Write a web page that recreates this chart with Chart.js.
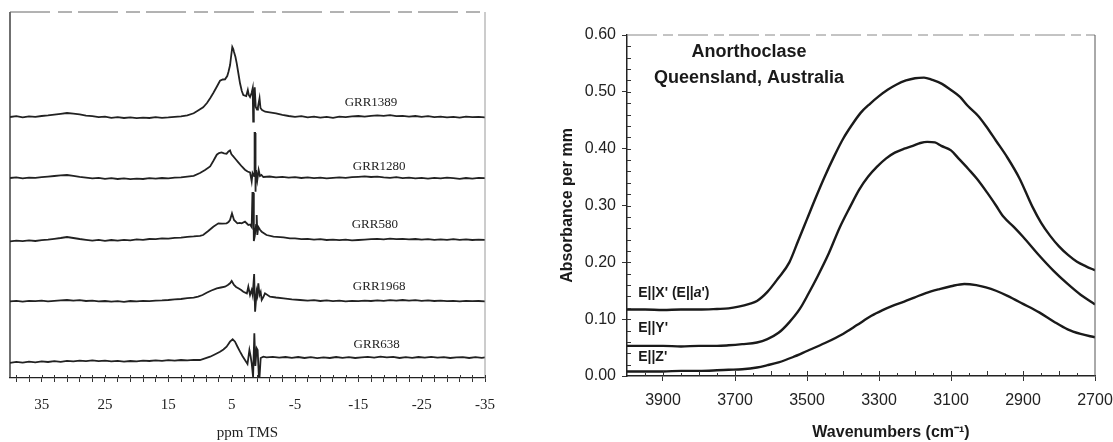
<!DOCTYPE html>
<html>
<head>
<meta charset="utf-8">
<script src="https://cdn.jsdelivr.net/npm/chart.js@4.4.0/dist/chart.umd.min.js"></script>
<style>
  body { margin: 0; background: #fff; }
  #nmrBox { position: absolute; left: 0; top: 0; width: 500px; height: 442px; }
  #irBox { position: absolute; left: 540px; top: 0; width: 573px; height: 442px; }
</style>
</head>
<body>
<div id="nmrBox"><canvas id="nmr-chart" width="500" height="442"></canvas></div>
<div id="irBox"><canvas id="ir-chart" width="573" height="442"></canvas></div>
<script>
// ---- left panel: 1H NMR spectra, [ppm, intensity above own baseline] ----
var sampleNames = ['GRR1389', 'GRR1280', 'GRR580', 'GRR1968', 'GRR638'];
var traceOffsets = [261, 200, 138, 77, 17];

var grr1389 = [
	[40,0],[39,0.8],[38,-0.4],[37,0.6],[36,0.2],[35,1],[34,1.6],[33,2.4],[32,3.2],[31,4],[30,3.4],[29,2.6],[28,1.4],[27,0.8],
	[26,-0.2],[25,0.4],[24,-0.8],[23,-0.2],[22,-1],[21,-0.4],[20,-1.2],[19,-0.6],[18,-1],[17,-0.2],[16,-0.8],[15,-0.4],[14,0.2],
	[13,0.6],[12,1.6],[11,3.7],[10.3,6.5],[9.5,9.7],[8.9,14],[8.4,18.7],[7.9,24],[7.35,30.3],[6.84,36.3],[6.4,37.5],[6.05,37.7],
	[5.7,41],[5.5,45.3],[5.25,52],[5.1,60],[4.9,70],[4.75,68],[4.63,65],[4.4,60],[4.2,53.7],[3.95,44],[3.68,33.7],[3.4,26],
	[3.16,22],[2.7,21],[2.45,27],[2.3,22],[2.1,20],[1.85,24],[1.68,28.7],[1.6,-4.7],[1.5,20],[1.36,29.7],[1.2,10],[1.0,7.5],
	[0.85,10],[0.6,18.7],[0.45,9],[0.2,7],[-0.3,5.3],[-1,4.6],[-2,3.7],[-3,2.2],[-4,1],
	[-5,0.2],[-6,0.8],[-7,-0.4],[-8,0.4],[-9,-0.6],[-10,0.2],[-11,-0.8],[-12,0.4],[-13,-0.2],[-14,0.6],[-15,1],[-16,0.4],
	[-17,1.2],[-18,1.6],[-19,1.2],[-20,1.8],[-21,0.8],[-22,1.2],[-23,0.4],[-24,1],[-25,0.2],[-26,0.8],[-27,-0.2],[-28,0.4],
	[-29,-0.4],[-30,0.2],[-31,-0.6],[-32,0.4],[-33,-0.2],[-34,0.2],[-35,-0.4]
];
var grr1280 = [
	[40,0],[39,0.6],[38,-0.4],[37,0.4],[36,0.2],[35,0.8],[34,1.4],[33,2],[32,2.6],[31,3],[30,2.2],[29,1.2],[28,0.4],[27,-0.4],
	[26,0.2],[25,-0.8],[24,-0.2],[23,-1],[22,-0.4],[21,-1.2],[20,-0.6],[19,-1],[18,-0.2],[17,-0.6],[16,0],[15,-0.4],[14,0.4],
	[13,0.6],[12,1.4],[11,2.2],[10,5],[9.2,8],[8.4,11.6],[7.9,17],[7.35,23.3],[7,25],[6.6,25.6],[6.2,24.6],[5.8,24.3],[5.5,26.5],
	[5.26,27.6],[5.05,24],[4.84,22.3],[4.4,19],[3.95,15.6],[3.4,11.5],[2.9,8.3],[2.5,6.5],[2.1,5.6],[1.84,-3.4],[1.7,5],[1.45,2],
	[1.38,45],[1.3,45],[1.26,-13.7],[1.2,-13],[1.15,8],[0.95,-2],[0.74,8],[0.53,2],[0.3,3],[0,1],[-1,1.5],[-2,0.6],[-3,1.2],[-4,0.4],
	[-5,0.8],[-6,0],[-7,0.6],[-8,-0.2],[-9,0.4],[-10,-0.4],[-11,0.2],[-12,0.6],[-13,0.2],[-14,0.8],[-15,1.2],[-16,1.6],[-17,1],
	[-18,1.4],[-19,0.6],[-20,0.2],[-21,0.8],[-22,-0.2],[-23,0.4],[-24,-0.4],[-25,0.2],[-26,-0.6],[-27,0.2],[-28,-0.4],[-29,0.4],
	[-30,-0.2],[-31,-0.8],[-32,0],[-33,-0.6],[-34,0.2],[-35,-0.2]
];
var grr580 = [
	[40,-1.4],[39,-0.6],[38,-1.2],[37,-0.4],[36,-1],[35,-0.2],[34,0.4],[33,1.2],[32,2],[31,3],[30,2],[29,1],[28,0.2],[27,-0.6],
	[26,0.2],[25,-0.8],[24,0],[23,-0.6],[22,0.2],[21,-0.4],[20,0.6],[19,0.2],[18,1],[17,0.8],[16,1.6],[15,1.4],[14,2.2],[13,2.4],
	[12,3.2],[11,3.6],[10,4.2],[9.5,5],[8.7,9],[7.9,13.3],[7.1,16.7],[6.5,16.4],[5.8,16.7],[5.5,18],[5.26,20],[4.95,26.7],[4.63,20],
	[4.1,16.7],[3.7,17.2],[3.42,16.7],[2.9,18.3],[2.6,16.5],[2.37,15],[2.1,15.5],[1.84,13],[1.72,47],[1.58,47],[1.5,-1],[1.35,4],
	[1.15,15],[1.05,25],[0.95,5],[0.79,13],[0.5,10],[0.26,8.3],[-0.5,5],[-1.6,3.3],[-3.2,2.7],[-4.2,1.6],
	[-5,1.6],[-6,0.8],[-7,1.2],[-8,0.4],[-9,0.8],[-10,0],[-11,0.4],[-12,-0.2],[-13,0.4],[-14,-0.4],[-15,0],[-16,0.4],[-17,0.8],
	[-18,1.2],[-19,0.6],[-20,1.4],[-21,0.8],[-22,1.2],[-23,0.6],[-24,1],[-25,0.4],[-26,0.8],[-27,0.2],[-28,0.6],[-29,0.2],
	[-30,0.8],[-31,0.2],[-32,0.6],[-33,0],[-34,0.4],[-35,0.2]
];
var grr1968 = [
	[40,-0.4],[39,0.2],[38,-0.6],[37,0.2],[36,-0.2],[35,0.4],[34,-0.4],[33,0.2],[32,0.6],[31,1],[30,0.4],[29,0.8],[28,0],[27,0.4],
	[26,-0.4],[25,0],[24,-0.6],[23,-0.2],[22,-0.8],[21,0],[20,-0.4],[19,0.2],[18,-0.2],[17,0.4],[16,0.6],[15,1],[14,1.6],[13,2],
	[12,2.8],[11,3.4],[10.3,4.4],[9.6,6],[8.95,8.3],[8.2,10.5],[7.35,12.7],[6.7,13.5],[6.05,14.3],[5.6,16],[5.26,17.7],[5,20],
	[4.63,16],[4.3,14],[3.95,12.7],[3.5,11],[3.16,9.3],[2.6,7.6],[2.37,14.3],[2.1,6],[1.84,11],[1.68,6],[1.45,27],[1.37,27],
	[1.3,-10.7],[1.22,-10.7],[1.05,9.3],[0.95,6],[0.79,17.7],[0.6,6],[0.42,9],[0.26,1],[0,4],[-0.26,7.7],[-1.05,4.3],[-2,3.5],
	[-3.2,2.7],[-4.5,1.6],[-5.8,1],[-7,0.4],[-8,0.8],[-9,0],[-10,0.6],[-11,-0.2],[-12,0.4],[-13,-0.4],[-14,0.2],[-15,-0.2],
	[-16,0.4],[-17,0],[-18,0.6],[-19,0.2],[-20,0.8],[-21,0.4],[-22,1],[-23,0.4],[-24,0.8],[-25,0.2],[-26,0.6],[-27,0],[-28,0.4],
	[-29,-0.2],[-30,0.2],[-31,-0.4],[-32,0.2],[-33,-0.2],[-34,0],[-35,-0.4]
];
var grr638 = [
	[40,-1.8],[39,-0.8],[38,-1.6],[37,-0.6],[36,-1.4],[35,-0.4],[34,-1],[33,-0.2],[32,-0.8],[31,0.2],[30,-0.4],[29,0.4],[28,-0.2],
	[27,0.6],[26,-0.2],[25,0.4],[24,-0.4],[23,0.2],[22,-0.6],[21,0],[20,-0.4],[19,0.4],[18,0],[17,0.6],[16,0.2],[15,0.8],[14,0.4],
	[13,1],[12,0.6],[11,1.2],[10,1],[9.2,2.6],[8.4,4.3],[7.6,6.8],[6.84,9.3],[6.3,11.5],[5.8,14.3],[5.26,19.3],[4.84,21.7],
	[4.47,19.3],[4.1,14.5],[3.68,9.3],[3.3,5],[2.9,1],[2.5,-3],[2.2,11],[2,4.3],[1.84,-2],[1.62,-16],[1.55,-16],[1.42,27.7],
	[1.34,27.7],[1.26,-5],[1.05,12.7],[0.9,11],[0.7,-16],[0.6,-16],[0.42,3],[0,4.3],[-0.5,3.6],[-1.5,4.2],[-2.5,3.4],[-3.5,4],
	[-4.5,3.2],[-5.5,4],[-6.5,3],[-7.5,3.8],[-8.5,2.8],[-9.5,3.6],[-10.5,3],[-11.5,4],[-12.5,3.2],[-13.5,3.8],[-14.5,3],
	[-15.5,3.6],[-16.5,4.2],[-17.5,3.4],[-18.5,4.4],[-19.5,3.6],[-20.5,4.2],[-21.5,3],[-22.5,3.8],[-23.5,3.2],[-24.5,4],
	[-25.5,3.4],[-26.5,4.2],[-27.5,3.4],[-28.5,3.8],[-29.5,3],[-30.5,3.6],[-31.5,3.8],[-32.5,3],[-33.5,3.8],[-34.5,3.2],[-35,3.6]
];
var nmrTraces = [grr1389, grr1280, grr580, grr1968, grr638];
var ppmTickLabels = [35, 25, 15, 5, -5, -15, -25, -35];

// ---- right panel: IR absorbance per mm ----
var irSeriesNames = ["E||X' (E||a')", "E||Y'", "E||Z'"];
var wnX = [4000,3950,3900,3850,3800,3750,3718,3690,3660,3639,3610,3580,3549,3525,3500,3475,3450,3425,3400,3375,3351,3325,3301,
	3275,3251,3225,3200,3175,3152,3125,3102,3075,3053,3025,3003,2975,2943,2910,2874,2850,2825,2800,2775,2750,2725,2700];
var absX = [0.117,0.117,0.116,0.117,0.117,0.118,0.119,0.122,0.127,0.132,0.148,0.172,0.200,0.237,0.276,0.315,0.352,0.386,0.417,
	0.442,0.463,0.479,0.492,0.504,0.513,0.520,0.524,0.525,0.521,0.514,0.504,0.491,0.475,0.458,0.440,0.414,0.384,0.348,0.298,0.270,
	0.247,0.228,0.213,0.201,0.193,0.186];
var wnY = [4000,3950,3900,3850,3800,3750,3718,3680,3639,3610,3579,3550,3520,3495,3470,3440,3410,3380,3355,3330,3306,3280,3256,
	3230,3206,3185,3166,3145,3127,3100,3078,3050,3028,3000,2975,2954,2925,2900,2855,2815,2776,2740,2700];
var absY = [0.053,0.053,0.053,0.052,0.053,0.053,0.054,0.056,0.059,0.065,0.076,0.094,0.118,0.146,0.176,0.215,0.260,0.298,0.328,
	0.351,0.368,0.383,0.393,0.400,0.405,0.410,0.412,0.411,0.405,0.397,0.382,0.363,0.347,0.323,0.300,0.280,0.262,0.245,0.212,0.185,
	0.162,0.143,0.126];
var wnZ = [4000,3950,3900,3850,3800,3750,3718,3680,3639,3610,3579,3540,3500,3450,3400,3360,3321,3290,3261,3230,3202,3170,3132,
	3100,3063,3030,3003,2975,2943,2900,2855,2815,2776,2740,2700];
var absZ = [0.008,0.008,0.008,0.009,0.009,0.010,0.011,0.012,0.015,0.019,0.024,0.033,0.044,0.058,0.074,0.090,0.106,0.116,0.124,
	0.131,0.138,0.146,0.153,0.158,0.162,0.160,0.156,0.150,0.141,0.127,0.112,0.096,0.082,0.074,0.068];
var wnTickLabels = [3900, 3700, 3500, 3300, 3100, 2900, 2700];
var absTickLabels = [0, 0.1, 0.2, 0.3, 0.4, 0.5, 0.6];

var serif = '"Liberation Serif", "Times New Roman", serif';
var sans = '"Liberation Sans", Arial, sans-serif';

// sample names sit a little above each trace, right of the peak
var nmrLabelAt = [[-17, 14], [-18.3, 11], [-17.6, 15], [-18.3, 14], [-17.9, 16]];

var nmrDecor = {
	id: 'nmrDecor',
	afterDatasetsDraw: function(chart) {
		var ctx = chart.ctx, a = chart.chartArea, x = chart.scales.x, y = chart.scales.y;
		ctx.save();
		ctx.strokeStyle = '#222';
		ctx.lineWidth = 1.3;
		ctx.beginPath(); ctx.moveTo(a.left, a.top); ctx.lineTo(a.left, a.bottom); ctx.stroke();
		ctx.strokeStyle = '#666';
		ctx.lineWidth = 1;
		ctx.setLineDash([40, 8, 14, 6]);
		ctx.beginPath(); ctx.moveTo(a.left, a.top); ctx.lineTo(a.right, a.top); ctx.stroke();
		ctx.setLineDash([]);
		ctx.strokeStyle = '#999';
		ctx.beginPath(); ctx.moveTo(a.right, a.top); ctx.lineTo(a.right, a.bottom); ctx.stroke();
		// ticks cross the axis line
		ctx.strokeStyle = '#333';
		x.ticks.forEach(function(t) {
			var px = Math.round(x.getPixelForValue(t.value)) + 0.5;
			ctx.beginPath(); ctx.moveTo(px, a.bottom); ctx.lineTo(px, a.bottom - 3); ctx.stroke();
		});
		ctx.font = '13px ' + serif;
		ctx.fillStyle = '#222';
		ctx.textAlign = 'center';
		ctx.textBaseline = 'middle';
		sampleNames.forEach(function(n, i) {
			ctx.fillText(n, x.getPixelForValue(nmrLabelAt[i][0]), y.getPixelForValue(traceOffsets[i] + nmrLabelAt[i][1]));
		});
		ctx.restore();
	}
};

new Chart(document.getElementById('nmr-chart'), {
	type: 'line',
	data: {
		datasets: nmrTraces.map(function(tr, i) {
			return {
				label: sampleNames[i],
				data: tr.map(function(p) { return {x: p[0], y: traceOffsets[i] + p[1]}; }),
				borderColor: '#222',
				borderWidth: 1.8,
				pointRadius: 0,
				tension: 0,
				fill: false
			};
		})
	},
	options: {
		responsive: false,
		animation: false,
		devicePixelRatio: 1,
		layout: { padding: { left: 10, right: 15, top: 12, bottom: 0 } },
		plugins: { legend: { display: false }, tooltip: { enabled: false } },
		scales: {
			x: {
				type: 'linear',
				reverse: true,
				min: -35,
				max: 40,
				afterBuildTicks: function(s) {
					var t = [];
					for (var v = 39; v >= -35; v -= 2) t.push({value: v});
					s.ticks = t;
				},
				afterFit: function(s) { s.height = 64; s.paddingLeft = 0; s.paddingRight = 0; },
				grid: { drawOnChartArea: false, tickLength: 4, color: '#333', lineWidth: 1 },
				border: { color: '#222', width: 1.3 },
				ticks: {
					autoSkip: false,
					maxRotation: 0,
					padding: 14,
					color: '#222',
					font: { family: serif, size: 15 },
					callback: function(v) { return ppmTickLabels.indexOf(v) >= 0 ? String(v) : ''; }
				},
				title: { display: true, text: 'ppm TMS', color: '#222', font: { family: serif, size: 15 }, padding: { top: 0, bottom: 0 } }
			},
			y: { display: false, min: 0, max: 366 }
		}
	},
	plugins: [nmrDecor]
});

// ---- right chart ----
var irDecor = {
	id: 'irDecor',
	afterDraw: function(chart) {
		var ctx = chart.ctx, a = chart.chartArea, x = chart.scales.x, y = chart.scales.y;
		ctx.save();
		// frame
		ctx.strokeStyle = '#888';
		ctx.lineWidth = 1;
		ctx.setLineDash([30, 6, 10, 5]);
		ctx.beginPath(); ctx.moveTo(a.left, a.top); ctx.lineTo(a.right, a.top); ctx.stroke();
		ctx.setLineDash([]);
		ctx.strokeStyle = '#555';
		ctx.beginPath(); ctx.moveTo(a.right, a.top); ctx.lineTo(a.right, a.bottom); ctx.stroke();
		// minor ticks, inside
		ctx.strokeStyle = '#333';
		for (var v = 0.02; v < 0.6; v += 0.02) {
			var py = Math.round(y.getPixelForValue(v)) + 0.5;
			ctx.beginPath(); ctx.moveTo(a.left, py); ctx.lineTo(a.left + 4, py); ctx.stroke();
		}
		for (var w = 3950; w > 2700; w -= 50) {
			var px = Math.round(x.getPixelForValue(w)) + 0.5;
			ctx.beginPath(); ctx.moveTo(px, a.bottom); ctx.lineTo(px, a.bottom - (w % 100 === 0 ? 5 : 3)); ctx.stroke();
		}
		// heading
		ctx.fillStyle = '#1a1a1a';
		ctx.textAlign = 'center';
		ctx.textBaseline = 'middle';
		ctx.font = 'bold 18px ' + sans;
		ctx.fillText('Anorthoclase', x.getPixelForValue(3661), y.getPixelForValue(0.570));
		ctx.fillText('Queensland, Australia', x.getPixelForValue(3661), y.getPixelForValue(0.524));
		// series labels
		ctx.font = 'bold 14px ' + sans;
		ctx.textAlign = 'left';
		var lx = x.getPixelForValue(3969);
		var t1 = "E||X' (E||", t2 = 'a', t3 = "')";
		var ly = y.getPixelForValue(0.146);
		ctx.fillText(t1, lx, ly);
		var w1 = ctx.measureText(t1).width;
		ctx.font = 'bold italic 14px ' + sans;
		ctx.fillText(t2, lx + w1, ly);
		var w2 = ctx.measureText(t2).width;
		ctx.font = 'bold 14px ' + sans;
		ctx.fillText(t3, lx + w1 + w2, ly);
		ctx.fillText(irSeriesNames[1], lx, y.getPixelForValue(0.085));
		ctx.fillText(irSeriesNames[2], lx, y.getPixelForValue(0.033));
		// x axis title
		ctx.textAlign = 'center';
		ctx.font = 'bold 16px ' + sans;
		ctx.fillText('Wavenumbers (cm\u207B\u00B9)', (a.left + a.right) / 2 + 30, 433);
		ctx.restore();
	}
};

function irLine(wn, ab, name) {
	return {
		label: name,
		data: wn.map(function(w, i) { return {x: w, y: ab[i]}; }),
		borderColor: '#1a1a1a',
		borderWidth: 2.4,
		pointRadius: 0,
		cubicInterpolationMode: 'monotone',
		fill: false
	};
}

new Chart(document.getElementById('ir-chart'), {
	type: 'line',
	data: {
		datasets: [irLine(wnX, absX, irSeriesNames[0]), irLine(wnY, absY, irSeriesNames[1]), irLine(wnZ, absZ, irSeriesNames[2])]
	},
	options: {
		responsive: false,
		animation: false,
		devicePixelRatio: 1,
		layout: { padding: { left: 0, right: 18, top: 35, bottom: 0 } },
		plugins: { legend: { display: false }, tooltip: { enabled: false } },
		scales: {
			x: {
				type: 'linear',
				reverse: true,
				min: 2700,
				max: 4000,
				afterBuildTicks: function(s) { s.ticks = wnTickLabels.map(function(v) { return {value: v}; }); },
				afterFit: function(s) { s.height = 66; s.paddingLeft = 0; s.paddingRight = 0; },
				grid: { drawOnChartArea: false, tickLength: 5, color: '#333' },
				border: { color: '#222', width: 1.5 },
				ticks: {
					autoSkip: false,
					maxRotation: 0,
					padding: 10,
					color: '#222',
					font: { family: sans, size: 16 },
					callback: function(v) { return String(v); }
				}
			},
			y: {
				min: 0,
				max: 0.6,
				afterBuildTicks: function(s) { s.ticks = absTickLabels.map(function(v) { return {value: v}; }); },
				afterFit: function(s) { s.width = 87; s.paddingTop = 0; s.paddingBottom = 0; },
				grid: { drawOnChartArea: false, tickLength: 5, color: '#333' },
				border: { color: '#222', width: 1.5 },
				ticks: {
					padding: 6,
					color: '#222',
					font: { family: sans, size: 16 },
					callback: function(v) { return v.toFixed(2); }
				},
				title: { display: true, text: 'Absorbance per mm', color: '#1a1a1a', font: { family: sans, size: 16, weight: 'bold' }, padding: { top: 18, bottom: 0 } }
			}
		}
	},
	plugins: [irDecor]
});
</script>
</body>
</html>
